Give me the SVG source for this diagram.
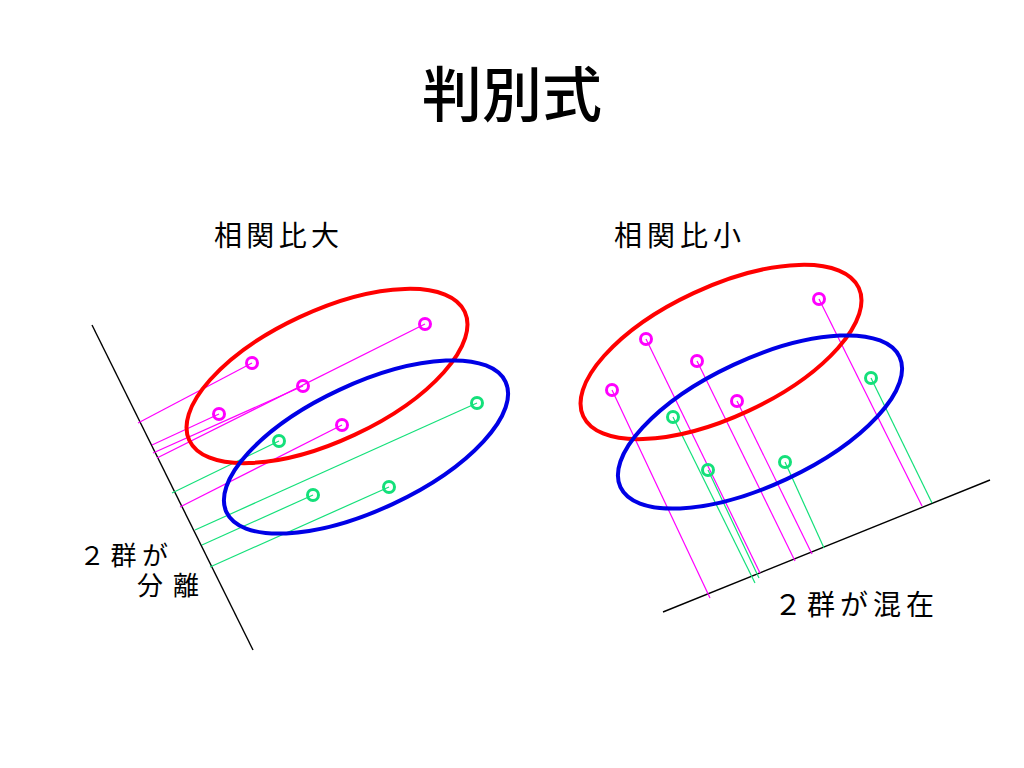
<svg xmlns="http://www.w3.org/2000/svg" width="1024" height="768" viewBox="0 0 1024 768">
<style>
.t{font-family:"Noto Sans CJK JP","Noto Sans CJK SC",sans-serif;fill:#000}
.lab{font-size:28px}
.axis{stroke:#000;stroke-width:1.4;fill:none}
.pm{stroke:#FF00FF;stroke-width:1.2}
.pg{stroke:#14E07A;stroke-width:1.2}
.cm{fill:none;stroke:#FF00FF;stroke-width:3}
.cg{fill:none;stroke:#14E07A;stroke-width:3}
.er{fill:none;stroke:#FF0000;stroke-width:4}
.eb{fill:none;stroke:#0000E6;stroke-width:4}
</style>
<rect width="1024" height="768" fill="#fff"/>
<text class="t" x="512" y="117" font-size="60" font-weight="500" text-anchor="middle">判別式</text>

<g id="left-panel">
  <text class="t lab" x="214" y="246" textLength="125" lengthAdjust="spacing">相関比大</text>
  <g id="connectors-left">
    <line class="axis" x1="92" y1="325" x2="253" y2="650"/>
    <line class="pm" x1="252" y1="363" x2="138" y2="423"/>
    <line class="pm" x1="425" y1="324" x2="157" y2="458"/>
    <line class="pm" x1="303" y1="386" x2="153" y2="453"/>
    <line class="pm" x1="219" y1="414" x2="152" y2="445"/>
    <line class="pm" x1="342" y1="425" x2="180" y2="507"/>
    <line class="pg" x1="279" y1="441" x2="172" y2="493"/>
    <line class="pg" x1="477" y1="403" x2="195" y2="530"/>
    <line class="pg" x1="313" y1="495" x2="202" y2="545"/>
    <line class="pg" x1="389" y1="487" x2="210" y2="567"/>
  </g>
  <g id="groups-left">
    <ellipse class="er" cx="327" cy="376" rx="152" ry="65" transform="rotate(-25 327 376)"/>
    <ellipse class="eb" cx="366" cy="447" rx="154" ry="63" transform="rotate(-25 366 447)"/>
  </g>
  <g id="points-left">
    <circle class="cm" cx="252" cy="363" r="5.5"/>
    <circle class="cm" cx="425" cy="324" r="5.5"/>
    <circle class="cm" cx="303" cy="386" r="5.5"/>
    <circle class="cm" cx="219" cy="414" r="5.5"/>
    <circle class="cm" cx="342" cy="425" r="5.5"/>
    <circle class="cg" cx="279" cy="441" r="5.5"/>
    <circle class="cg" cx="477" cy="403" r="5.5"/>
    <circle class="cg" cx="313" cy="495" r="5.5"/>
    <circle class="cg" cx="389" cy="487" r="5.5"/>
  </g>
  <text class="t" x="79" y="565" font-size="26" textLength="89" lengthAdjust="spacing">２群が</text>
  <text class="t" x="137" y="595" font-size="26" textLength="62" lengthAdjust="spacing">分離</text>
</g>

<g id="right-panel">
  <text class="t lab" x="614" y="246" textLength="127" lengthAdjust="spacing">相関比小</text>
  <g id="connectors-right">
    <line class="axis" x1="663" y1="612" x2="990" y2="480"/>
    <line class="pm" x1="612" y1="390" x2="710" y2="598"/>
    <line class="pm" x1="646" y1="339" x2="760" y2="573"/>
    <line class="pm" x1="697" y1="361" x2="795" y2="561"/>
    <line class="pm" x1="737" y1="401" x2="812" y2="554"/>
    <line class="pm" x1="819" y1="299" x2="922" y2="506"/>
    <line class="pg" x1="673" y1="417" x2="755" y2="583"/>
    <line class="pg" x1="708" y1="470" x2="759" y2="578"/>
    <line class="pg" x1="785" y1="462" x2="824" y2="548"/>
    <line class="pg" x1="871" y1="378" x2="932" y2="503"/>
  </g>
  <g id="groups-right">
    <ellipse class="er" cx="721" cy="352" rx="152" ry="65" transform="rotate(-25 721 352)"/>
    <ellipse class="eb" cx="760" cy="422" rx="154" ry="63" transform="rotate(-25 760 422)"/>
  </g>
  <g id="points-right">
    <circle class="cm" cx="819" cy="299" r="5.5"/>
    <circle class="cm" cx="646" cy="339" r="5.5"/>
    <circle class="cm" cx="697" cy="361" r="5.5"/>
    <circle class="cm" cx="612" cy="390" r="5.5"/>
    <circle class="cm" cx="737" cy="401" r="5.5"/>
    <circle class="cg" cx="871" cy="378" r="5.5"/>
    <circle class="cg" cx="673" cy="417" r="5.5"/>
    <circle class="cg" cx="708" cy="470" r="5.5"/>
    <circle class="cg" cx="785" cy="462" r="5.5"/>
  </g>
  <text class="t lab" x="774" y="615" textLength="160" lengthAdjust="spacing">２群が混在</text>
</g>
</svg>
